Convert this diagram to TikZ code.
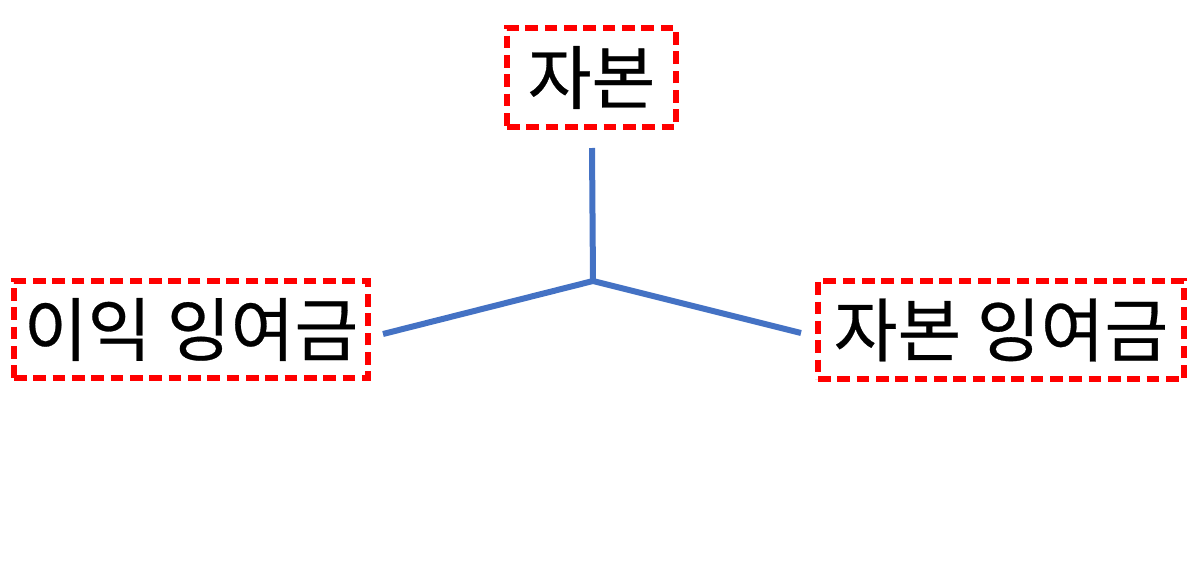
\documentclass[tikz,border=0pt]{standalone}
\usepackage{fontspec}
\setmainfont{Noto Sans CJK KR}
\newfontfamily\krfont[FakeBold=0.4]{Noto Sans CJK KR}
\begin{document}
\begin{tikzpicture}[x=0.75pt,y=-0.75pt,
  lbl/.style={draw=red,line width=3.9pt,dash pattern=on 9.5pt off 5pt,inner sep=0pt,font=\krfont\fontsize{52}{60}\selectfont,text=black},
  conn/.style={draw={rgb,255:red,68;green,114;blue,196},line width=4.5pt}]
\useasboundingbox (0,0) rectangle (1195,578);
\node[lbl,minimum width=169*0.75pt,minimum height=99*0.75pt] (cap) at (591.5,77.5) {자본};
\node[lbl,minimum width=354*0.75pt,minimum height=97*0.75pt] (ret) at (191,329.5) {이익 잉여금};
\node[lbl,minimum width=366*0.75pt,minimum height=98*0.75pt] (sur) at (1001,330) {자본 잉여금};
\coordinate (j) at (593,281);
\coordinate (t) at (592,148);
\coordinate (l) at (383,334);
\coordinate (r) at (801,333);
\draw[conn] (t) -- (j);
\draw[conn,line join=bevel] (l) -- (j) -- (r);
\end{tikzpicture}
\end{document}
